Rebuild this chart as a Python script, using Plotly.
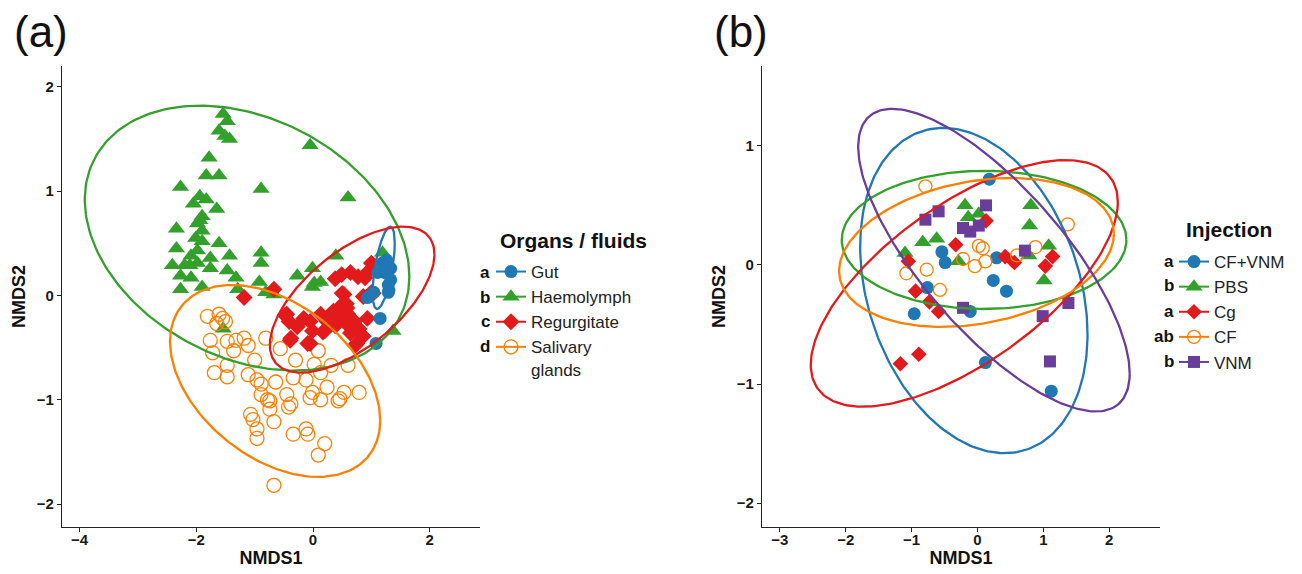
import numpy as np
import plotly.graph_objects as go

# ---------------- Panel (a): Organs / fluids ----------------
gut_x = [1.26, 1.19, 1.11, 1.22, 1.33, 1.33, 1.29, 1.29, 0.93, 1.04, 1.15, 1.08, 1.25, 1.30]
gut_y = [0.34, 0.31, 0.22, 0.22, 0.26, 0.15, 0.10, 0.03, -0.02, 0.03, -0.22, -0.46, 0.28, 0.05]

hae_x = [-1.54, -1.47, -1.61, -1.51, -1.43, -0.05, -1.78, -1.83, -1.61, -2.27, -0.89, 0.60, -1.94, -1.83,
         -2.05, -1.65, -1.90, -1.98, -2.34, -1.90, -2.01, -1.90, -2.34, -1.61, -1.98, -0.89, 0.39, -2.09,
         -1.76, -1.43, -2.41, -2.20, -1.98, -1.76, -1.47, -0.89, -0.01, 1.19, -0.27, -2.27, -2.09, -1.32,
         -0.92, 0.02, 0.13, -2.27, -1.90, -1.29, -0.81, -0.67, -0.01, -1.54, 1.37, -2.11, -1.94]
hae_y = [1.74, 1.67, 1.58, 1.53, 1.50, 1.44, 1.32, 1.15, 1.15, 1.04, 1.02, 0.94, 0.95, 0.92,
         0.88, 0.83, 0.76, 0.69, 0.64, 0.62, 0.55, 0.52, 0.45, 0.50, 0.43, 0.41, 0.38, 0.38,
         0.36, 0.38, 0.29, 0.29, 0.31, 0.26, 0.24, 0.31, 0.26, 0.41, 0.19, 0.19, 0.17, 0.17,
         0.13, 0.12, 0.13, 0.06, 0.08, 0.06, 0.03, 0.01, 0.08, -0.32, -0.34, 0.29, 0.72]

reg_x = [-1.18, -0.67, -0.45, -0.41, -0.38, -0.16, -0.05, -0.01, -0.05, 0.13, 0.24, 0.20, 0.35, 0.46,
         0.42, 0.53, 0.57, 0.60, 0.64, 0.38, 0.49, 0.64, 0.77, 0.89, 1.00, 0.93, 0.71, 0.79, 0.86,
         0.75, 0.93, 1.00, 0.86, -0.27, 0.58, 0.17, -0.09, 0.72, 0.55, 0.38, -0.48, -0.39, 1.03, 0.33, 0.50]
reg_y = [-0.02, 0.06, -0.18, -0.25, -0.41, -0.22, -0.25, -0.34, -0.46, -0.18, -0.25, -0.34, -0.15, -0.11,
         -0.22, 0.01, -0.08, -0.18, -0.36, 0.16, 0.20, 0.22, 0.18, 0.17, 0.31, 0.22, -0.25, -0.32, -0.39,
         -0.46, -0.22, 0.03, -0.01, -0.30, -0.12, -0.35, -0.46, -0.48, -0.26, -0.29, -0.19, -0.43, 0.02, -0.19, 0.02]

sal_x = [-1.81, -1.61, -1.50, -1.65, -1.76, -1.47, -1.32, -1.18, -1.11, -1.36, -1.72, -0.81, -0.56, 0.09,
         -1.00, -1.47, -1.69, -1.47, -1.11, -0.96, -0.89, -0.64, -0.34, -0.12, 0.13, 0.31, 0.60, -0.01,
         0.24, 0.46, 0.53, 0.79, 0.13, -0.89, -0.78, -0.45, -0.38, -0.42, -0.74, -0.67, -1.07, -1.03,
         -0.96, -0.96, -0.34, -0.09, -0.12, 0.20, 0.09, -0.67, -0.74, -0.05, 0.43, -1.55, -0.30, 0.02]
sal_y = [-0.20, -0.18, -0.25, -0.27, -0.43, -0.44, -0.43, -0.41, -0.48, -0.53, -0.55, -0.41, -0.51, -0.53,
         -0.62, -0.67, -0.74, -0.78, -0.76, -0.81, -0.85, -0.83, -0.79, -0.81, -0.74, -0.67, -0.67, -0.93,
         -0.88, -0.99, -0.93, -0.93, -1.00, -0.95, -1.00, -0.95, -1.04, -1.07, -1.09, -1.21, -1.14, -1.19,
         -1.28, -1.37, -1.33, -1.33, -1.28, -1.42, -1.53, -1.82, -1.01, -0.98, -1.01, -0.22, -0.62, -0.66]

groups_a = ["Gut", "Haemolymph", "Regurgitate", "Salivary<br>glands"]
letters_a = ["a", "b", "c", "d"]
legend_title_a = "Organs / fluids"
# ellipse summaries: centre, x half-extent, y half-extent, correlation
ell_a_cx = [1.21, -1.13, 0.67, -0.65]
ell_a_cy = [0.265, 0.55, -0.04, -0.82]
ell_a_sx = [0.19, 2.78, 1.41, 1.80]
ell_a_sy = [0.395, 1.27, 0.70, 0.92]
ell_a_r = [0.60, -0.29, 0.62, -0.41]

# ---------------- Panel (b): Injection ----------------
cfv_x = [0.18, -0.54, -0.49, 0.29, -0.76, 0.24, 0.44, -0.96, -0.11, 0.12, 1.12]
cfv_y = [0.72, 0.11, 0.02, 0.06, -0.19, -0.13, -0.22, -0.41, -0.39, -0.82, -1.06]

pbs_x = [-1.10, -0.83, -0.62, -0.29, -0.19, -0.14, 0.02, 0.81, 0.79, 0.78, 1.08, 1.01]
pbs_y = [0.10, 0.19, 0.22, 0.03, 0.50, 0.40, 0.43, 0.50, 0.33, 0.08, 0.16, -0.13]

cg_x = [-1.05, -0.33, 0.13, 0.42, 0.56, 1.03, 1.14, -0.94, -0.73, -0.59, -0.89, -1.17]
cg_y = [0.03, 0.17, 0.37, 0.07, 0.02, -0.01, 0.07, -0.22, -0.31, -0.39, -0.75, -0.83]

cf_x = [-0.79, 1.37, -1.08, -0.77, -0.57, -0.22, -0.04, 0.02, 0.08, 0.12, 0.88, 0.60]
cf_y = [0.66, 0.34, -0.07, -0.04, -0.21, 0.05, -0.01, 0.16, 0.14, 0.03, 0.15, 0.08]

vnm_x = [-0.79, -0.59, 0.13, -0.22, -0.11, 0.02, 0.72, -0.22, 0.99, 1.38, 1.10]
vnm_y = [0.38, 0.45, 0.50, 0.31, 0.28, 0.33, 0.12, -0.36, -0.43, -0.32, -0.81]

groups_b = ["CF+VNM", "PBS", "Cg", "CF", "VNM"]
letters_b = ["a", "b", "a", "ab", "b"]
legend_title_b = "Injection"
ell_b_cx = [-0.055, 0.10, -0.20, -0.015, 0.25]
ell_b_cy = [-0.215, 0.21, -0.155, 0.105, 0.04]
ell_b_sx = [1.725, 2.16, 2.33, 2.085, 2.06]
ell_b_sy = [1.365, 0.58, 1.035, 0.625, 1.27]
ell_b_r = [-0.27, 0.0, 0.66, 0.25, -0.75]

# ---------------- styling ----------------
FONT = "Liberation Sans, Arial, sans-serif"
OFF = 8                      # default page margin of the html body
W, H = 1302 - OFF, 574 - OFF  # figure size so that it fits the window
BLUE, GREEN, RED, ORANGE, PURPLE = "#1f78b4", "#33a02c", "#e31a1c", "#ff7f00", "#6a3d9a"
INK = "#111111"


def px_x(p):
    """screen pixel -> paper x"""
    return (p - OFF) / W


def px_y(p):
    """screen pixel -> paper y"""
    return 1 - (p - OFF) / H


def ellipse(cx, cy, sx, sy, r, n=240):
    t = np.linspace(0, 2 * np.pi, n)
    x = cx + sx * np.cos(t)
    y = cy + sy * (r * np.cos(t) + np.sqrt(1 - r * r) * np.sin(t))
    return x, y


fig = go.Figure()

styles_a = [
    dict(symbol="circle", size=13, color=BLUE),
    dict(symbol="triangle-up", size=15, color=GREEN),
    dict(symbol="diamond", size=13, color=RED),
    dict(symbol="circle-open", size=14, color=ORANGE, line=dict(width=1.3, color=ORANGE)),
]
cols_a = [BLUE, GREEN, RED, ORANGE]
data_a = [(gut_x, gut_y), (hae_x, hae_y), (reg_x, reg_y), (sal_x, sal_y)]
draw_order_a = [1, 3, 2, 0]

for i in draw_order_a:
    fig.add_trace(go.Scatter(x=data_a[i][0], y=data_a[i][1], mode="markers", marker=styles_a[i],
                             showlegend=False, xaxis="x", yaxis="y", hoverinfo="x+y"))
for i in range(4):
    ex, ey = ellipse(ell_a_cx[i], ell_a_cy[i], ell_a_sx[i], ell_a_sy[i], ell_a_r[i])
    fig.add_trace(go.Scatter(x=ex, y=ey, mode="lines", line=dict(color=cols_a[i], width=2.3),
                             showlegend=False, xaxis="x", yaxis="y", hoverinfo="skip"))
for i in range(4):
    fig.add_trace(go.Scatter(x=[None], y=[None], mode="lines+markers", name=groups_a[i],
                             marker=styles_a[i], line=dict(color=cols_a[i], width=2),
                             legend="legend", legendgroup="a%d" % i, legendrank=i + 1,
                             xaxis="x", yaxis="y"))

styles_b = [
    dict(symbol="circle", size=13, color=BLUE),
    dict(symbol="triangle-up", size=15, color=GREEN),
    dict(symbol="diamond", size=12, color=RED),
    dict(symbol="circle-open", size=13, color=ORANGE, line=dict(width=1.3, color=ORANGE)),
    dict(symbol="square", size=12, color=PURPLE),
]
cols_b = [BLUE, GREEN, RED, ORANGE, PURPLE]
data_b = [(cfv_x, cfv_y), (pbs_x, pbs_y), (cg_x, cg_y), (cf_x, cf_y), (vnm_x, vnm_y)]

for i in range(5):
    fig.add_trace(go.Scatter(x=data_b[i][0], y=data_b[i][1], mode="markers", marker=styles_b[i],
                             showlegend=False, xaxis="x2", yaxis="y2", hoverinfo="x+y"))
for i in range(5):
    ex, ey = ellipse(ell_b_cx[i], ell_b_cy[i], ell_b_sx[i], ell_b_sy[i], ell_b_r[i])
    fig.add_trace(go.Scatter(x=ex, y=ey, mode="lines", line=dict(color=cols_b[i], width=2.3),
                             showlegend=False, xaxis="x2", yaxis="y2", hoverinfo="skip"))
for i in range(5):
    fig.add_trace(go.Scatter(x=[None], y=[None], mode="lines+markers", name=groups_b[i],
                             marker=styles_b[i], line=dict(color=cols_b[i], width=2),
                             legend="legend2", legendgroup="b%d" % i, legendrank=i + 1,
                             xaxis="x2", yaxis="y2"))

tickfont = dict(family=FONT, size=15, color="#1a1a1a", weight="bold")
titlefont = dict(family=FONT, size=18, color=INK, weight="bold")
axis_common = dict(showline=True, linecolor="#222222", linewidth=1.2, ticks="outside", ticklen=4,
                   tickcolor="#222222", tickwidth=1.2, showgrid=False, zeroline=False,
                   tickfont=tickfont, mirror=False, automargin=False)

fig.update_layout(
    width=W, height=H, margin=dict(l=0, r=0, t=0, b=0),
    paper_bgcolor="white", plot_bgcolor="white",
    font=dict(family=FONT),
    xaxis=dict(domain=[px_x(62), px_x(480)], range=[-4.3, 2.86], tickvals=[-4, -2, 0, 2],
               ticklabelstandoff=-5,
               title=dict(text="NMDS1", font=titlefont, standoff=4), anchor="y", **axis_common),
    yaxis=dict(domain=[px_y(527), px_y(66)], range=[-2.22, 2.2], tickvals=[-2, -1, 0, 1, 2],
               title=dict(text="NMDS2", font=titlefont, standoff=6), anchor="x", **axis_common),
    xaxis2=dict(domain=[px_x(762), px_x(1160)], range=[-3.27, 2.77], tickvals=[-3, -2, -1, 0, 1, 2],
                ticklabelstandoff=-5,
                title=dict(text="NMDS1", font=titlefont, standoff=4), anchor="y2", **axis_common),
    yaxis2=dict(domain=[px_y(527), px_y(66)], range=[-2.2, 1.67], tickvals=[-2, -1, 0, 1],
                title=dict(text="NMDS2", font=titlefont, standoff=6), anchor="x2", **axis_common),
    legend=dict(x=px_x(491), y=px_y(254), xanchor="left", yanchor="top", valign="top",
                font=dict(family=FONT, size=17, color="#222222"), tracegroupgap=0,
                bgcolor="rgba(0,0,0,0)"),
    legend2=dict(x=px_x(1174), y=px_y(244), xanchor="left", yanchor="top", valign="top",
                 font=dict(family=FONT, size=17, color="#222222"), tracegroupgap=0,
                 bgcolor="rgba(0,0,0,0)"),
    showlegend=True,
)

annotations = [
    dict(text="(a)", x=px_x(12), y=px_y(5), xref="paper", yref="paper", xanchor="left", yanchor="top",
         showarrow=False, font=dict(family=FONT, size=44, color=INK)),
    dict(text="(b)", x=px_x(712), y=px_y(5), xref="paper", yref="paper", xanchor="left", yanchor="top",
         showarrow=False, font=dict(family=FONT, size=44, color=INK)),
    dict(text="<b>%s</b>" % legend_title_a, x=px_x(498), y=px_y(240), xref="paper", yref="paper",
         xanchor="left", yanchor="middle", showarrow=False, font=dict(family=FONT, size=21, color=INK)),
    dict(text="<b>%s</b>" % legend_title_b, x=px_x(1184), y=px_y(229), xref="paper", yref="paper",
         xanchor="left", yanchor="middle", showarrow=False, font=dict(family=FONT, size=21, color=INK)),
]
let_a_y = [272, 297, 321, 346]
for lab, yy in zip(letters_a, let_a_y):
    annotations.append(dict(text="<b>%s</b>" % lab, x=px_x(492), y=px_y(yy), xref="paper", yref="paper",
                            xanchor="right", yanchor="middle", showarrow=False,
                            font=dict(family=FONT, size=17, color=INK)))
let_b_y = [261, 286, 311, 336, 361]
for lab, yy in zip(letters_b, let_b_y):
    annotations.append(dict(text="<b>%s</b>" % lab, x=px_x(1176), y=px_y(yy), xref="paper", yref="paper",
                            xanchor="right", yanchor="middle", showarrow=False,
                            font=dict(family=FONT, size=17, color=INK)))
fig.update_layout(annotations=annotations)

fig.write_html("out.html")
